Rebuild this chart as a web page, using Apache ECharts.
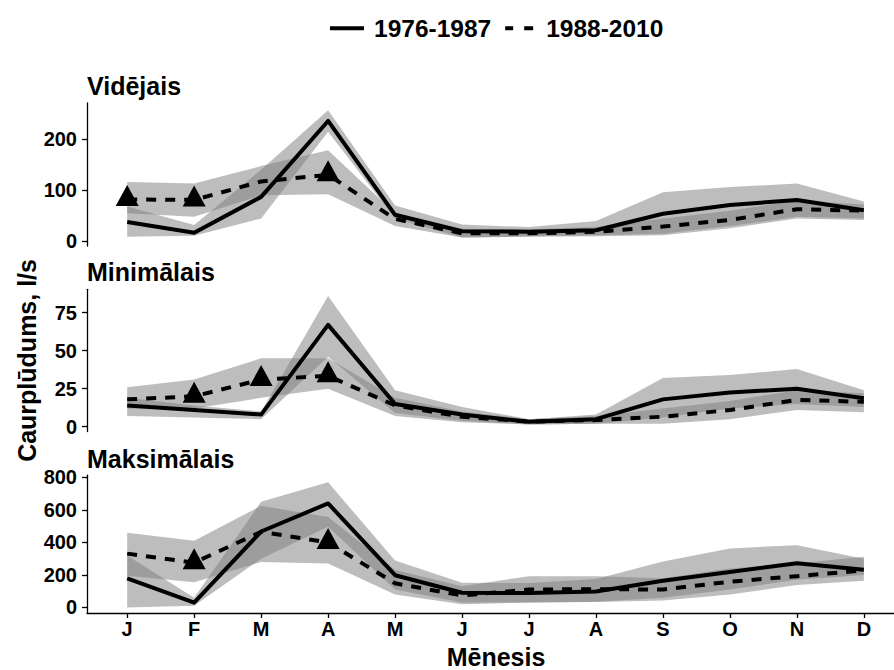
<!DOCTYPE html>
<html><head><meta charset="utf-8">
<script src="https://cdn.jsdelivr.net/npm/echarts@6/dist/echarts.min.js"></script>
<style>html,body{margin:0;padding:0;background:#fff}#c{width:894px;height:670px}</style>
</head><body><div id="c"></div>
<script>
// ---- data ----
const months = ['J','F','M','A','M','J','J','A','S','O','N','D'];
const seriesNames = ['1976-1987', '1988-2010'];
const panelTitles = ['Vidējais', 'Minimālais', 'Maksimālais'];
const xTitle = 'Mēnesis';
const yTitle = 'Caurplūdums, l/s';

// Vidējais
const avgOld   = [38, 17, 87, 235, 52, 20, 19, 22, 54, 71, 81, 61];
const avgNew   = [82, 81, 117, 130, 44, 16, 16, 19, 29, 42, 63, 60];
const avgOldLo = [9, 11, 45, 214, 45, 8, 10, 12, 15, 30, 48, 45];
const avgOldHi = [68, 32, 140, 256, 70, 33, 28, 40, 96, 106, 113, 78];
const avgNewLo = [55, 48, 90, 92, 30, 8, 9, 10, 12, 26, 45, 42];
const avgNewHi = [116, 113, 147, 178, 55, 25, 24, 28, 45, 60, 80, 72];
const avgSig   = [0, 1, 3];
const avgTicks = [0, 100, 200];

// Minimālais
const minOld   = [14, 11, 8, 67, 15, 8, 3.3, 5, 18, 22.5, 25, 18.7];
const minNew   = [18, 20, 31, 33.5, 14, 6.6, 3.3, 4.4, 6.6, 11, 17.6, 16.4];
const minOldLo = [7, 6, 5, 46, 9, 4, 1.5, 2, 6, 12, 15, 13];
const minOldHi = [19, 14, 10, 86, 24, 13, 5, 8, 32, 34, 38, 24];
const minNewLo = [12, 12, 19, 25, 7, 3, 1.5, 2, 2, 5, 11, 9.5];
const minNewHi = [26, 31, 45, 45, 19, 10, 5, 7, 12, 17, 24, 22];
const minSig   = [1, 2, 3];
const minTicks = [0, 25, 50, 75];

// Maksimālais
const maxOld   = [178, 29, 467, 640, 198, 90, 88, 98, 164, 218, 272, 232];
const maxNew   = [331, 275, 465, 400, 148, 73, 110, 112, 110, 158, 192, 228];
const maxOldLo = [0, 10, 300, 497, 110, 30, 30, 35, 60, 110, 170, 200];
const maxOldHi = [320, 60, 650, 770, 288, 152, 150, 175, 283, 363, 383, 300];
const maxNewLo = [195, 155, 280, 270, 79, 19, 30, 33, 43, 79, 138, 164];
const maxNewHi = [460, 410, 625, 556, 230, 130, 192, 192, 180, 240, 270, 312];
const maxSig   = [1, 3];
const maxTicks = [0, 200, 400, 600, 800];

// ---- layout / style ----
const FONT = '"Liberation Sans", Arial, Helvetica, sans-serif';
const RIB = 'rgba(128,128,128,0.52)';
const idx = months.map((m, i) => i);

const panels = [
  {old: avgOld, nw: avgNew, oLo: avgOldLo, oHi: avgOldHi, nLo: avgNewLo, nHi: avgNewHi, sig: avgSig, ticks: avgTicks,
   min: -8.8, max: 270, top: 103, height: 143, titleTop: 73.8},
  {old: minOld, nw: minNew, oLo: minOldLo, oHi: minOldHi, nLo: minNewLo, nHi: minNewHi, sig: minSig, ticks: minTicks,
   min: -3.2, max: 90.4, top: 289.3, height: 142.3, titleTop: 259.8},
  {old: maxOld, nw: maxNew, oLo: maxOldLo, oHi: maxOldHi, nLo: maxNewLo, nHi: maxNewHi, sig: maxSig, ticks: maxTicks,
   min: -34.6, max: 813.7, top: 475.2, height: 142.1, titleTop: 446}
];

function ribbon(lo, hi) {
  return function (params, api) {
    if (params.dataIndex !== 0) return null;
    const pts = [];
    for (let i = 0; i < hi.length; i++) pts.push(api.coord([i, hi[i]]));
    for (let i = lo.length - 1; i >= 0; i--) pts.push(api.coord([i, lo[i]]));
    return {type: 'polygon', shape: {points: pts}, style: {fill: RIB}};
  };
}

const grid = [], xAxis = [], yAxis = [], series = [], title = [];
panels.forEach((p, k) => {
  grid.push({left: 87, right: 0, top: p.top, height: p.height, containLabel: false});
  title.push({text: panelTitles[k], left: 87, top: p.titleTop, padding: 0,
    textStyle: {fontFamily: FONT, fontSize: 25, fontWeight: 'bold', color: '#000'}});
  const last = k === panels.length - 1;
  xAxis.push({
    type: 'value', gridIndex: k, min: -0.6, max: 11.45, show: last,
    splitLine: {show: false},
    axisLine: {show: last, onZero: false, lineStyle: {color: '#000', width: 1.3}},
    axisTick: {show: last, length: 5, customValues: idx, lineStyle: {color: '#000', width: 1.3}},
    axisLabel: {show: last, customValues: idx, margin: 6, formatter: v => months[Math.round(v)],
      fontFamily: FONT, fontSize: 20, fontWeight: 'bold', color: '#000'},
    name: last ? xTitle : '', nameLocation: 'middle', nameGap: 31,
    nameTextStyle: {fontFamily: FONT, fontSize: 25, fontWeight: 'bold', color: '#000', padding: [0, 0, 0, 11]}
  });
  yAxis.push({
    type: 'value', gridIndex: k, min: p.min, max: p.max,
    splitLine: {show: false},
    axisLine: {show: true, onZero: false, lineStyle: {color: '#000', width: 1.3}},
    axisTick: {show: true, length: 5, customValues: p.ticks, lineStyle: {color: '#000', width: 1.3}},
    axisLabel: {customValues: p.ticks, margin: 10, fontFamily: FONT, fontSize: 20, fontWeight: 'bold', color: '#000'},
    name: k === 1 ? yTitle : '', nameLocation: 'middle', nameGap: 48,
    nameTextStyle: {fontFamily: FONT, fontSize: 25, fontWeight: 'bold', color: '#000'}
  });
  series.push({type: 'custom', name: 'rib-old-' + k, xAxisIndex: k, yAxisIndex: k, z: 1, silent: true,
    renderItem: ribbon(p.oLo, p.oHi), data: idx.map(i => [i, p.oLo[i], p.oHi[i]]), encode: {x: 0, y: [1, 2]}});
  series.push({type: 'custom', name: 'rib-new-' + k, xAxisIndex: k, yAxisIndex: k, z: 1, silent: true,
    renderItem: ribbon(p.nLo, p.nHi), data: idx.map(i => [i, p.nLo[i], p.nHi[i]]), encode: {x: 0, y: [1, 2]}});
  series.push({type: 'line', name: seriesNames[0], xAxisIndex: k, yAxisIndex: k, z: 3,
    symbol: 'none', showSymbol: false, data: idx.map(i => [i, p.old[i]]),
    lineStyle: {color: '#000', width: 4, type: 'solid', join: 'round'}, itemStyle: {color: '#000'}});
  series.push({type: 'line', name: seriesNames[1], xAxisIndex: k, yAxisIndex: k, z: 3,
    symbol: 'none', showSymbol: false, data: idx.map(i => [i, p.nw[i]]),
    lineStyle: {color: '#000', width: 4, type: [10, 9], cap: 'butt', join: 'round'}, itemStyle: {color: '#000'}});
  series.push({type: 'scatter', name: 'sig-' + k, xAxisIndex: k, yAxisIndex: k, z: 4,
    symbol: 'triangle', symbolSize: [23, 21], symbolOffset: [0, -4],
    data: p.sig.map(i => [i, p.nw[i]]), itemStyle: {color: '#000', opacity: 1}});
});

const chart = echarts.init(document.getElementById('c'), null, {renderer: 'svg'});
chart.setOption({
  animation: false,
  backgroundColor: '#fff',
  title: title,
  legend: {
    data: [
      {name: seriesNames[0], icon: 'path://M0,0H34V4H0Z'},
      {name: seriesNames[1], icon: 'path://M0,0H8V4H0Z M19,0H28V4H19Z'}
    ],
    left: 330, top: 15.7, padding: 0, itemGap: 14,
    itemWidth: 34, itemHeight: 4,
    itemStyle: {color: '#000', borderWidth: 0},
    textStyle: {fontFamily: FONT, fontSize: 24.5, fontWeight: 'bold', color: '#000', padding: [0, 0, 0, 5]}
  },
  grid: grid, xAxis: xAxis, yAxis: yAxis, series: series
});
</script></body></html>
